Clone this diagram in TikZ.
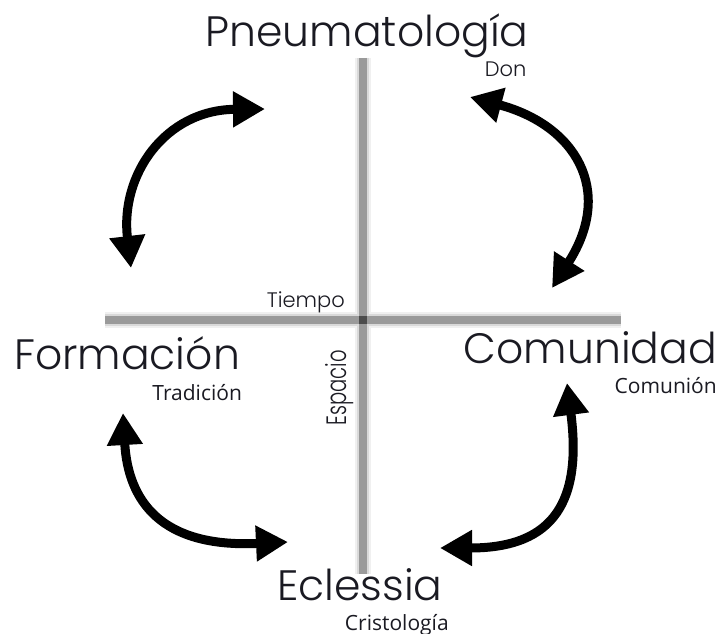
\documentclass[tikz,border=0pt]{standalone}
\usepackage{fontspec}
\setmainfont{Poppins}[UprightFont=* Light]
\newfontfamily\subfont{Open Sans}
\usetikzlibrary{arrows.meta}
\definecolor{inkc}{HTML}{1A1A22}
\definecolor{axisc}{HTML}{9A9A9A}

\begin{document}
\begin{tikzpicture}[x=1pt,y=-1pt]

\tikzstyle{bignode}=[inner sep=0mm,text=inkc,font=\fontsize{42.5}{46}\selectfont]
\tikzstyle{subnode}=[inner sep=0mm,text=inkc,font=\subfont\fontsize{21}{24}\selectfont]
\tikzstyle{axnode}=[inner sep=0mm,text=inkc,font=\fontsize{21}{24}\selectfont]
\tikzstyle{axline}=[line width=8pt,draw=axisc]
\tikzstyle{axshade}=[line width=16pt,draw=gray!12]
\tikzstyle{axshadein}=[line width=12pt,draw=gray!30]
\tikzstyle{twoway}=[{Triangle[length=32pt,width=34pt]}-{Triangle[length=32pt,width=34pt]},line width=9pt,black]

\useasboundingbox (0,0) rectangle (723,634);

\begin{scope}[]

\coordinate (vtop) at (363,58);
\coordinate (vbot) at (363,574);
\coordinate (hleft) at (105,320);
\coordinate (hright) at (621,320);

\draw[axshade] (vtop)--(vbot);
\draw[axshade] (hleft)--(hright);
\draw[axshadein] (vtop)--(vbot);
\draw[axshadein] (hleft)--(hright);
\draw[axline] (vtop)--(vbot);
\draw[axline] (hleft)--(hright);
\node [fill=black!70,inner sep=0mm,minimum size=8pt] (ctr) at (363,320){};

\node [anchor=base,bignode] (pneu) at (367,47){Pneumatología};
\node [anchor=base east,axnode] (don) at ([xshift=-2pt,yshift=-30pt]pneu.base east){Don};
\node [anchor=base west,bignode] (form) at (14,369){Formación};
\node [anchor=base east,subnode] (trad) at ([xshift=2pt,yshift=-31pt]form.base east){Tradición};
\node [anchor=base east,bignode] (comu) at (717,363){Comunidad};
\node [anchor=base east,subnode] (comun) at ([xshift=0pt,yshift=-30pt]comu.base east){Comunión};
\node [anchor=base,bignode] (ecl) at (360,600){Eclessia};
\node [anchor=base east,subnode] (crist) at ([xshift=6pt,yshift=-30pt]ecl.base east){Cristología};
\node [anchor=base east,axnode] (tiempo) at (345,307){Tiempo};
\node [anchor=mid,rotate=90,axnode,font=\fontsize{28}{30}\selectfont] (espacio) at (344,388){\scalebox{0.7}[1]{Espacio}};

\coordinate (tl1) at (131,268);
\coordinate (tl2) at (265,109);
\coordinate (tr1) at (470,97);
\coordinate (tr2) at (552,288);
\coordinate (bl1) at (123,413);
\coordinate (bl2) at (288,542);
\coordinate (br1) at (567,383);
\coordinate (br2) at (440,548);

\draw[twoway] (tl1) .. controls (120,175) and (165,110) .. (tl2);
\draw[twoway] (tr1) .. controls (575,125) and (615,190) .. (tr2);
\draw[twoway] (bl1) .. controls (128,500) and (160,548) .. (bl2);
\draw[twoway] (br1) .. controls (582,500) and (555,548) .. (br2);

\end{scope}
\end{tikzpicture}
\end{document}
